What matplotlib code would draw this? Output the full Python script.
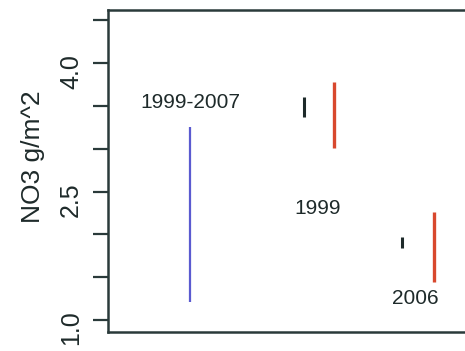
import matplotlib
matplotlib.use("Agg")
import matplotlib.pyplot as plt
from matplotlib.transforms import ScaledTranslation

plt.rcParams['font.family'] = ['Liberation Sans', 'DejaVu Sans']

# Data (NO3 g/m^2 ranges)
series_names = ["1999-2007", "1999 black", "1999 red", "2006 black", "2006 red"]
x_pos = [2.25, 5.39, 6.21, 8.07, 8.95]
y_low = [1.21, 3.37, 3.01, 1.84, 1.44]
y_high = [3.25, 3.60, 3.78, 1.97, 2.26]
colors = ["#5a5ad0", "#1e2a2a", "#d8482e", "#1e2a2a", "#d8482e"]
widths = [1.6, 2.2, 2.4, 2.2, 2.4]

labels = ["1999-2007", "1999", "2006"]
label_x = [2.25, 5.77, 8.43]
label_y = [3.54, 2.30, 1.25]

yticks_major = [1.0, 2.5, 4.0]
ytick_labels = ["1.0", "2.5", "4.0"]
yticks_minor = [1.5, 2.0, 3.0, 3.5, 4.5]

fig = plt.figure(figsize=(4.65, 3.51), dpi=100)
ax = fig.add_axes([108/465, 1-332/351, (472-108)/465, (332-10)/351])

for x, lo, hi, c, w in zip(x_pos, y_low, y_high, colors, widths):
    ax.vlines(x, lo, hi, color=c, linewidth=w)

for t, x, y in zip(labels, label_x, label_y):
    ax.text(x, y, t, ha='center', va='center', fontsize=15, color='#1e2a2a')

ax.set_xlim(0, 10)
ax.set_ylim(0.86, 4.62)
ax.set_yticks(yticks_major)
ax.set_yticklabels(ytick_labels, rotation=90, va='center', fontsize=18, color='#1e2a2a')
ax.set_yticks(yticks_minor, minor=True)
ax.tick_params(axis='y', which='both', length=11, width=1.6, color='#2a3a3a', pad=7)
off = ScaledTranslation(0, -8/100, fig.dpi_scale_trans)
for lab in ax.get_yticklabels():
    lab.set_transform(lab.get_transform() + off)
ax.set_xticks([])
for s in ax.spines.values():
    s.set_linewidth(1.8)
    s.set_color('#2a3a3a')
ax.set_ylabel("NO3 g/m^2", fontsize=19, color='#1e2a2a')
ax.yaxis.set_label_coords(-0.172, 0.543)

fig.savefig("out.png", dpi=100)
